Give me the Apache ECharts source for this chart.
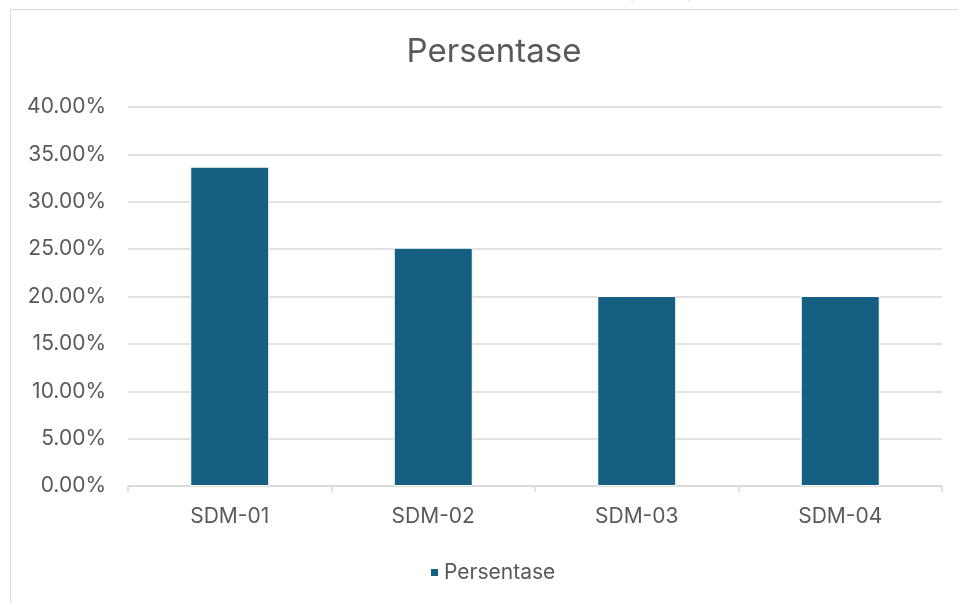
<!DOCTYPE html>
<html>
<head>
<meta charset="utf-8">
<script src="https://cdn.jsdelivr.net/npm/echarts@6/dist/echarts.min.js"></script>
<style>
html,body{margin:0;padding:0;background:#fff;}
#c{width:958px;height:603px;}
</style>
</head>
<body>
<div id="c"></div>
<script>
const categories = ['SDM-01', 'SDM-02', 'SDM-03', 'SDM-04'];
const persentase = [33.70, 25.15, 20.05, 20.05];
const yTicks = [0, 5, 10, 15, 20, 25, 30, 35, 40];

const FONT = 'Inter, "Open Sans", sans-serif';
const chart = echarts.init(document.getElementById('c'));
chart.setOption({
  animation: false,
  backgroundColor: '#fff',
  title: {
    text: 'Persentase',
    left: 489,
    textAlign: 'center',
    top: 31,
    textStyle: { fontFamily: FONT, fontSize: 33, fontWeight: 'normal', color: '#595959' }
  },
  legend: {
    data: ['Persentase'],
    left: 424,
    top: 557,
    icon: 'rect',
    itemWidth: 9,
    itemHeight: 9,
    itemGap: 7,
    textStyle: { fontFamily: FONT, fontSize: 21, color: '#595959' }
  },
  graphic: [
    {
      type: 'rect',
      shape: { x: 10.5, y: 9.5, width: 1000, height: 700 },
      style: { fill: 'none', stroke: '#d9d9d9', lineWidth: 1 },
      z: -1
    },
    {
      type: 'text',
      left: 16,
      top: -24,
      style: {
        text: 'Gambar 3. Bagan Faktor Kelemahan Sumber Daya Manusia (SDM) Pada UMKM',
        font: '25px "Liberation Serif", serif',
        fill: '#000'
      }
    }
  ],
  grid: { left: 128, right: 16, top: 107, bottom: 117, containLabel: false },
  xAxis: {
    type: 'category',
    data: categories,
    axisLine: { lineStyle: { color: '#d9d9d9', width: 1.5 } },
    axisTick: { show: true, length: 6, lineStyle: { color: '#d9d9d9', width: 1.5 } },
    axisLabel: { fontFamily: FONT, fontSize: 21, color: '#595959', margin: 20 }
  },
  yAxis: {
    type: 'value',
    min: 0,
    max: 40,
    interval: 5,
    axisLine: { show: false },
    axisTick: { show: false },
    axisLabel: {
      fontFamily: FONT, fontSize: 21, color: '#595959', margin: 22,
      formatter: v => yTicks.includes(v) ? v.toFixed(2) + '%' : ''
    },
    splitLine: { lineStyle: { color: '#d9d9d9', width: 1.5 } }
  },
  series: [{
    name: 'Persentase',
    type: 'bar',
    data: persentase,
    barWidth: 79,
    itemStyle: { color: '#156082', borderColor: '#ffffff', borderWidth: 1 }
  }]
});
</script>
</body>
</html>
